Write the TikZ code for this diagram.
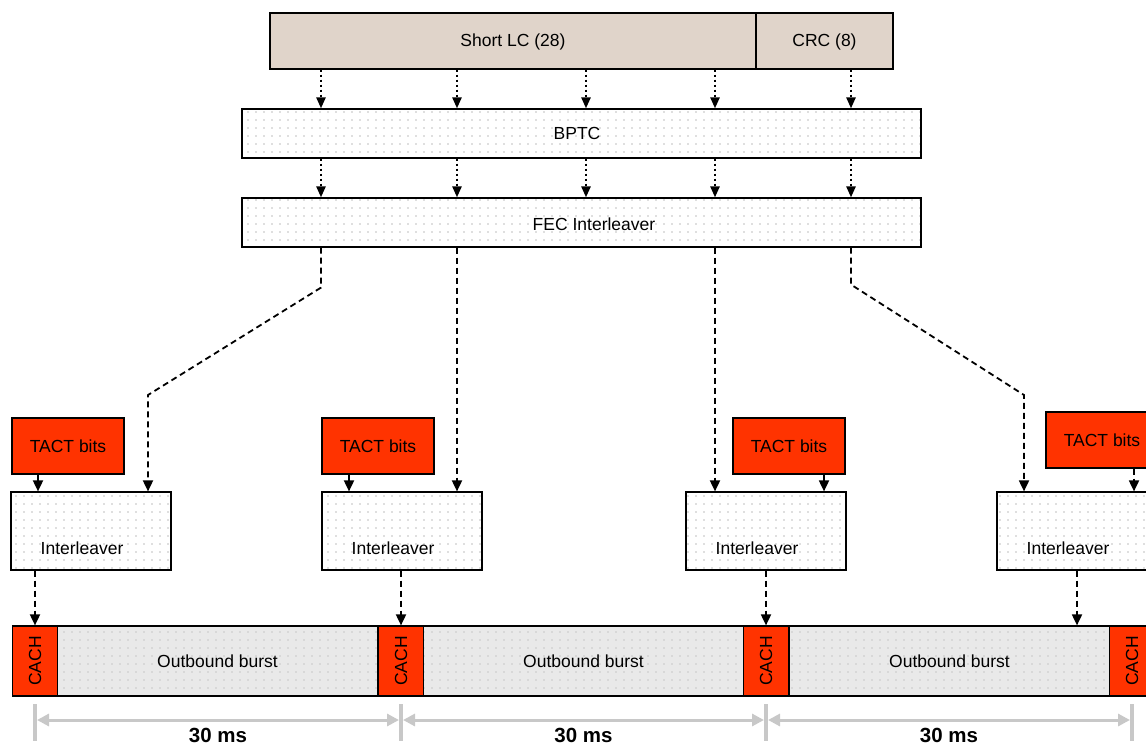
\documentclass[tikz,border=0pt]{standalone}
\usepackage{fontspec}
\setmainfont{Liberation Sans}
\usepackage{graphicx}
\usetikzlibrary{arrows.meta,patterns.meta,calc}
\definecolor{lcbrown}{RGB}{224,212,202}
\definecolor{tactred}{RGB}{255,51,0}
\definecolor{dimgray}{RGB}{200,200,200}
\definecolor{burstgray}{RGB}{233,233,233}

\begin{document}
\begin{tikzpicture}[x=1pt, y=1pt,
    box/.style={draw, line width=1.2pt, inner sep=0pt, align=center, font=\fontsize{17.5}{20}\selectfont},
    brownbox/.style={box, fill=lcbrown, minimum height=56pt},
    dotbox/.style={box, pattern={Dots[distance=8pt, radius=0.85pt]}, pattern color=black!25},
    tactbox/.style={box, fill=tactred, minimum width=112pt, minimum height=56pt},
    intbox/.style={dotbox, minimum width=160pt, minimum height=78pt, text height=46pt, text depth=0pt, execute at end node=\hspace*{18pt}},
    cachbox/.style={box, fill=tactred, minimum width=45pt, minimum height=70pt},
    burstbox/.style={box, preaction={fill=burstgray}, pattern={Dots[distance=8pt, radius=0.85pt]}, pattern color=black!22, minimum width=321pt, minimum height=70pt},
    dotarr/.style={-{Triangle[length=11pt, width=9pt]}, line width=2.4pt, dash pattern=on 2.4pt off 2.6pt},
    dasharr/.style={-{Triangle[length=11pt, width=10pt]}, line width=1.8pt, dash pattern=on 6pt off 4pt},
    dimarr/.style={{Triangle[length=12pt, width=12pt]}-{Triangle[length=12pt, width=12pt]}, line width=3pt, draw=dimgray, shorten <=2pt, shorten >=2pt},
    dimtick/.style={line width=3.5pt, draw=dimgray},
    mslabel/.style={anchor=base, font=\fontsize{20.5}{24}\selectfont\bfseries}
]
    \useasboundingbox (0,0) rectangle (1146,-744);

    % Short LC, CRC, BPTC, FEC
    \node[brownbox, minimum width=486pt, text height=15pt] (lc) at (513,-41) {Short LC (28)};
    \node[brownbox, minimum width=137pt, text height=15pt] (crc) at (824.5,-41) {CRC (8)};
    \node[dotbox, minimum width=679pt, minimum height=49pt] (bptc) at (581.5,-133.5) {BPTC\hspace*{9pt}};
    \node[dotbox, minimum width=679pt, minimum height=49pt, text height=16pt] (fec) at (581.5,-222.5) {\hspace*{25pt}FEC Interleaver};

    \foreach \x [count=\i] in {321,457,586,715,851}
        \coordinate (c\i) at (\x,0);
    \foreach \i in {1,...,5} {
        \draw[dotarr] (lc.south -| c\i) -- (bptc.north -| c\i);
        \draw[dotarr] (bptc.south -| c\i) -- (fec.north -| c\i);
    }

    % TACT bits and interleavers
    \node[tactbox] (tact1) at (68,-446) {TACT bits};
    \node[tactbox] (tact2) at (378,-446) {TACT bits};
    \node[tactbox] (tact3) at (789,-446) {TACT bits};
    \node[tactbox] (tact4) at (1102,-440) {TACT bits};

    \node[intbox] (int1) at (91,-531) {Interleaver};
    \node[intbox] (int2) at (402,-531) {Interleaver};
    \node[intbox] (int3) at (766,-531) {Interleaver};
    \node[intbox] (int4) at (1077,-531) {Interleaver};

    \draw[dasharr] ([xshift=-30pt]tact1.south) -- ([xshift=-30pt]tact1.south |- int1.north);
    \draw[dasharr] ([xshift=-29pt]tact2.south) -- ([xshift=-29pt]tact2.south |- int2.north);
    \draw[dasharr] ([xshift=35pt]tact3.south) -- ([xshift=35pt]tact3.south |- int3.north);
    \draw[dasharr] ([xshift=32pt]tact4.south) -- ([xshift=32pt]tact4.south |- int4.north);

    \coordinate (k1) at (148,-395);
    \coordinate (k2) at (1024,-395);
    \draw[dasharr] (fec.south -| c1) -- ++(0,-40) -- (k1) -- (k1 |- int1.north);
    \draw[dasharr] (fec.south -| c2) -- (int2.north -| c2);
    \draw[dasharr] (fec.south -| c4) -- (int3.north -| c4);
    \draw[dasharr] (fec.south -| c5) -- ++(0,-37) -- (k2) -- (k2 |- int4.north);

    % outbound row
    \node[burstbox] (burst1) at (217.5,-661) {Outbound burst};
    \node[burstbox] (burst2) at (583.5,-661) {Outbound burst};
    \node[burstbox] (burst3) at (949.5,-661) {Outbound burst};
    \foreach \x [count=\i] in {35,401,766,1132}
        \node[cachbox] (cach\i) at (\x,-661) {\rotatebox{90}{CACH}};

    \draw[dasharr] (int1.south -| cach1) -- (cach1.north);
    \draw[dasharr] (int2.south -| cach2) -- (cach2.north);
    \draw[dasharr] (int3.south -| cach3) -- (cach3.north);
    \draw[dasharr] (int4.south) -- (burst3.north -| int4);

    % 30 ms spacing
    \foreach \i in {1,...,4}
        \draw[dimtick] (cach\i |- 0,-704) -- (cach\i |- 0,-741);
    \foreach \i/\j in {1/2,2/3,3/4} {
        \draw[dimarr] (cach\i |- 0,-720) -- (cach\j |- 0,-720);
        \node[mslabel] (ms\i) at ($(cach\i |- 0,-742)!0.5!(cach\j |- 0,-742)$) {30 ms};
    }
\end{tikzpicture}
\end{document}
